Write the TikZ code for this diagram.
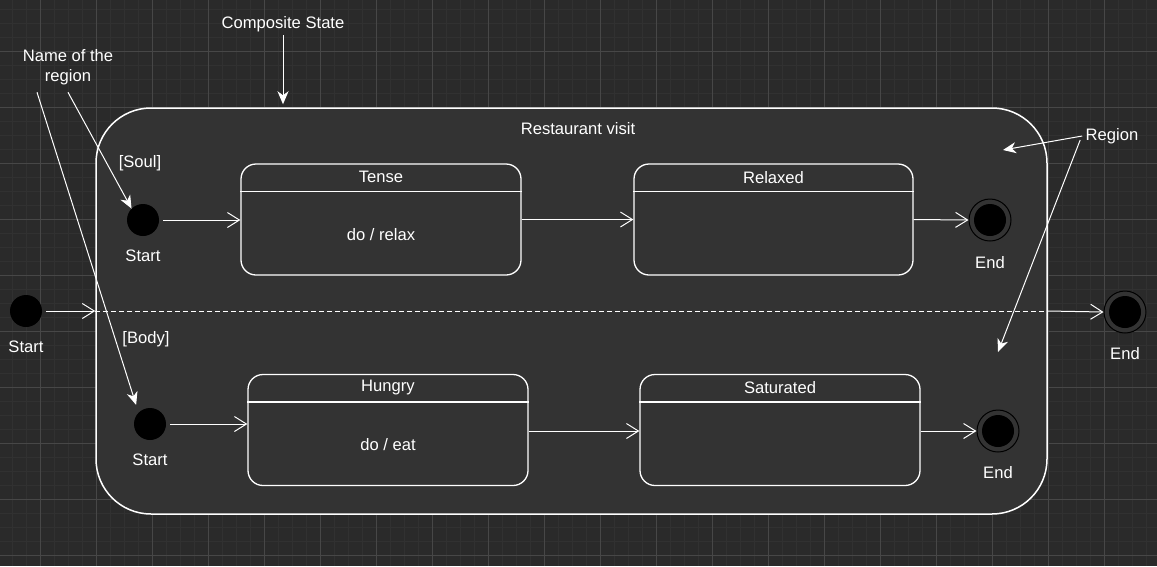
\documentclass[tikz,border=0pt]{standalone}
\usepackage{fontspec}
\setmainfont{Liberation Sans}
\usetikzlibrary{arrows.meta,calc,positioning}
\definecolor{canvas}{HTML}{2A2A2A}
\definecolor{gridmajor}{HTML}{474747}
\definecolor{gridminor}{HTML}{313131}
\definecolor{statefill}{HTML}{333333}

\begin{document}
\begin{tikzpicture}[x=1pt,y=-1pt,every node/.style={font=\fontsize{16.6}{20}\selectfont,text=white}]
  \tikzstyle{initial}=[circle,fill=black,minimum size=32pt,inner sep=0pt]
  \tikzstyle{final}=[circle,draw=black,line width=1pt,fill=statefill,minimum size=42pt,
    inner sep=0pt,path picture={\fill[black] (path picture bounding box.center) circle (16pt);}]
  \tikzstyle{simple}=[rectangle,draw=white,line width=1.3pt,rounded corners=15pt,
    fill=statefill,minimum width=280pt,minimum height=111pt]
  \tikzstyle{trans}=[white,line width=1pt,-{Straight Barb[length=12pt,width=15pt]}]
  \tikzstyle{note}=[white,line width=1pt,-{Stealth[length=13pt,width=11pt,inset=4pt]}]

  % background grid
  \useasboundingbox (0,0) rectangle (1157,566);
  \fill[canvas] (0,0) rectangle (1157,566);
  \foreach \x in {12,26,...,1156} \draw[gridminor] (\x,0) -- (\x,566);
  \foreach \y in {9.3,23.3,...,566} \draw[gridminor] (0,\y) -- (1157,\y);
  \foreach \x in {40,96,...,1156} \draw[gridmajor] (\x,0) -- (\x,566);
  \foreach \y in {51.3,107.3,...,566} \draw[gridmajor] (0,\y) -- (1157,\y);

  % composite state
  \node [draw=white,line width=1.5pt,fill=statefill,rounded corners=55pt,
    minimum width=951pt,minimum height=406pt] (visit) at (571.5,311) {};
  \node (visittitle) at (578,129) {Restaurant visit};
  \node (soul) at (140,163) {[Soul]};
  \node (body) at (146,339) {[Body]};

  % outer initial and final states
  \node [initial] (start) at (26,311) {};
  \node [below=10pt of start] (startlabel) {Start};
  \node [final] (end) at (1125,312) {};
  \node [below=10pt of end] (endlabel) {End};
  \draw [trans,shorten <=4pt] (start) -- (start -| visit.west);
  \draw [white,line width=1pt,dash pattern=on 5pt off 3pt]
    (start -| visit.west) -- (start -| visit.east);
  \draw [trans] (start -| visit.east) -- (end.west);

  % region soul
  \node [initial] (soulstart) at (143,220) {};
  \node [below=10pt of soulstart] (soulstartlabel) {Start};
  \node [simple] (tense) at (381,219.5) {};
  \node [simple,minimum width=279pt] (relaxed) at (773.5,219.5) {};
  \node [final] (soulend) at (990,220) {};
  \node [below=11pt of soulend] (soulendlabel) {End};
  \foreach \s/\t in {tense/Tense,relaxed/Relaxed} {
    \draw [white,line width=1.3pt] ($(\s.north west)+(0,28)$) -- ($(\s.north east)+(0,28)$);
    \node at ($(\s.north)+(0,14)$) {\t};
  }
  \node at ($(tense.south)+(0,-41.5)$) {do / relax};
  \draw [trans,shorten <=4pt] (soulstart) -- (soulstart -| tense.west);
  \draw [trans] (tense.east) -- (relaxed.west);
  \draw [trans] (relaxed.east) -- (soulend.west);

  % region body
  \node [initial] (bodystart) at (150,424) {};
  \node [below=10pt of bodystart] (bodystartlabel) {Start};
  \node [simple] (hungry) at (388,430) {};
  \node [simple] (saturated) at (780,430) {};
  \node [final] (bodyend) at (998,431) {};
  \node [below=10pt of bodyend] (bodyendlabel) {End};
  \foreach \s/\t in {hungry/Hungry,saturated/Saturated} {
    \draw [white,line width=1.3pt] ($(\s.north west)+(0,28)$) -- ($(\s.north east)+(0,28)$);
    \node at ($(\s.north)+(0,14)$) {\t};
  }
  \node at ($(hungry.south)+(0,-41.5)$) {do / eat};
  \draw [trans,shorten <=4pt] (bodystart) -- (bodystart -| hungry.west);
  \draw [trans] (hungry.east |- bodyend) -- (saturated.west |- bodyend);
  \draw [trans] (saturated.east |- bodyend) -- (bodyend.west);

  % annotations
  \node (comptext) at (283,24) {Composite State};
  \draw [note,shorten >=3pt] (comptext.south) -- (comptext.south |- visit.north);
  \node [align=center] (regionname) at (68,67) {Name of the\\region};
  \draw [note] ($(regionname.south)+(0,4)$) -- (soulstart.135);
  \draw [note,shorten >=8pt] ($(regionname.south)+(-31,4)$) -- (bodystart.135);
  \node (regiontext) at (1112,136) {Region};
  \coordinate (soulregion) at (1003,150);
  \coordinate (bodyregion) at (998,352);
  \draw [note] (regiontext.west) -- (soulregion);
  \draw [note] ($(regiontext.west)+(-2,4)$) -- (bodyregion);
\end{tikzpicture}
\end{document}
